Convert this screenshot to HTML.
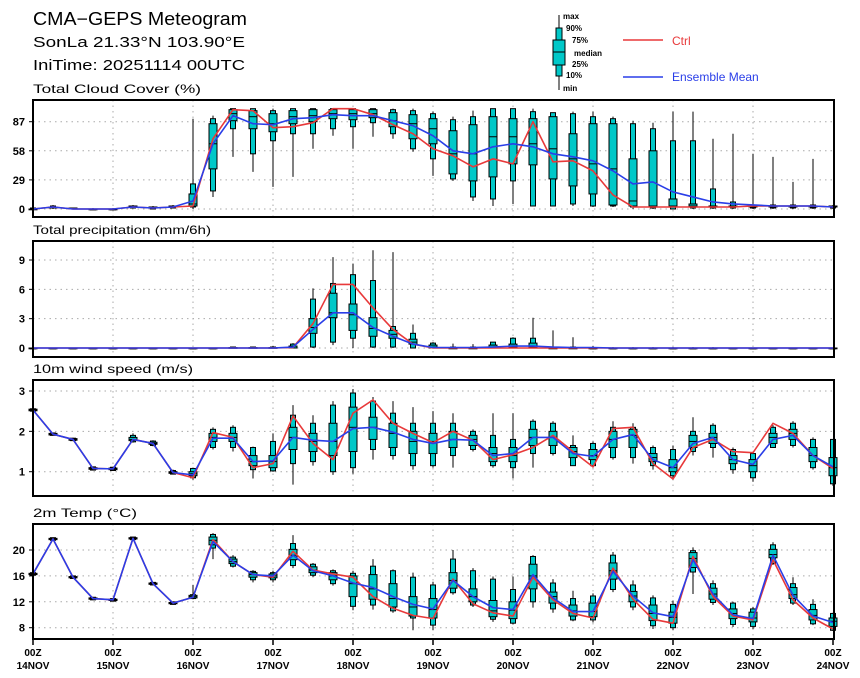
<!DOCTYPE html>
<html><head><meta charset="utf-8">
<style>
html,body{margin:0;padding:0;background:#fff;}
svg{display:block;font-family:"Liberation Sans",sans-serif;}
</style></head>
<body>
<svg id="chart" width="860" height="678" viewBox="0 0 860 678" xmlns="http://www.w3.org/2000/svg">
  <rect x="0" y="0" width="860" height="678" fill="#fff"/>
  <g fill="#000">
    <text x="33" y="25" font-size="18" textLength="214" lengthAdjust="spacingAndGlyphs">CMA−GEPS Meteogram</text>
    <text x="33" y="47" font-size="15" textLength="212" lengthAdjust="spacingAndGlyphs">SonLa 21.33°N 103.90°E</text>
    <text x="33" y="70" font-size="15" textLength="212" lengthAdjust="spacingAndGlyphs">IniTime: 20251114 00UTC</text>
  </g>
  <g>
    <g>
      <line x1="559" y1="15" x2="559" y2="90" stroke="#000" stroke-width="1"/>
      <rect x="556" y="28" width="6" height="48" fill="#00c8c8" stroke="#000" stroke-width="1"/>
      <rect x="553" y="40" width="12" height="25" fill="#00c8c8" stroke="#000" stroke-width="1"/>
      <line x1="553" y1="52" x2="565" y2="52" stroke="#000" stroke-width="1"/>
      <g font-size="8" font-weight="bold" fill="#000">
        <text x="563" y="19">max</text>
        <text x="566" y="31">90%</text>
        <text x="572" y="43">75%</text>
        <text x="574" y="56">median</text>
        <text x="572" y="67">25%</text>
        <text x="566" y="78">10%</text>
        <text x="563" y="91">min</text>
      </g>
    </g>
    <g>
      <line x1="623" y1="40" x2="663" y2="40" stroke="#e8393a" stroke-width="1.5"/>
      <text x="672" y="45" font-size="12" fill="#e8393a">Ctrl</text>
    </g>
    <g>
      <line x1="623" y1="77" x2="663" y2="77" stroke="#2a3ee8" stroke-width="1.5"/>
      <text x="672" y="81" font-size="12" fill="#2a3ee8">Ensemble Mean</text>
    </g>
  </g>
  <g id="panels"></g>
</svg>
<script>
// ---- data (41 six-hourly steps from 14NOV 00Z to 24NOV 00Z) ----
const dayLabels = ["14NOV","15NOV","16NOV","17NOV","18NOV","19NOV","20NOV","21NOV","22NOV","23NOV","24NOV"];

const cloudTicks = [0,29,58,87];
const cloudMean = [0,2,0,0,0,2,1,2,8,65,93,85,84,90,91,94,93,93,88,83,73,58,55,62,65,62,55,52,48,38,25,27,17,12,7,5,4,3,3,3,2];
const cloudCtrl = [0,2,0,0,0,2,1,2,3,70,99,98,81,82,86,100,100,94,84,75,60,53,42,50,45,87,47,48,38,14,2,2,2,2,2,2,3,3,3,3,2];
const cloudBox = [
[0,0,0,0,0,1,1],[0,1,1,2,2,3,4],[0,0,0,0,1,1,1],[0,0,0,0,0,0,1],[0,0,0,0,0,0,1],[1,1,2,2,3,3,4],[0,0,1,1,2,2,3],[1,1,2,2,3,3,4],
[0,2,3,5,15,25,90],[12,18,40,65,85,90,93],[52,80,88,95,99,100,100],[37,55,80,92,98,100,100],[22,68,77,85,95,98,100],
[32,75,85,92,98,100,100],[60,75,87,93,99,100,100],[73,80,90,95,99,100,100],[60,82,89,95,99,100,100],[72,86,91,95,99,100,100],
[70,75,82,88,96,99,100],[57,60,70,85,94,98,100],[33,50,65,80,90,95,97],[28,30,35,55,78,89,92],[8,12,28,55,84,92,98],
[3,10,32,72,92,100,100],[5,28,45,72,90,100,100],[3,3,44,65,90,97,100],[3,3,30,60,92,96,96],[3,5,23,50,75,95,97],
[2,3,15,45,85,92,97],[2,3,4,40,85,90,92],[0,2,3,8,50,85,88],[0,1,2,3,58,80,86],[0,0,2,3,10,68,97],[0,1,2,3,5,68,97],
[0,1,2,2,3,20,70],[0,1,2,2,3,7,75],[0,1,2,3,3,4,55],[0,1,2,3,3,4,52],[0,1,2,3,3,4,27],[0,1,2,3,3,4,50],[0,1,2,2,3,3,4]];

const precipTicks = [0,3,6,9];
const precipMean = [0,0,0,0,0,0,0,0,0,0,0,0,0,0.1,1.9,3.6,3.6,2.1,1.2,0.4,0.05,0.05,0.05,0.1,0.2,0.2,0.1,0.05,0.05,0,0,0,0,0,0,0,0,0,0,0,0];
const precipCtrl = [0,0,0,0,0,0,0,0,0,0,0,0,0,0.05,2.5,6.5,6.5,4.1,1.9,0.4,0,0,0,0,0,0,0,0,0,0,0,0,0,0,0,0,0,0,0,0,0];
const precipBox = [
[0,0,0,0,0,0,0],[0,0,0,0,0,0,0],[0,0,0,0,0,0,0],[0,0,0,0,0,0,0],[0,0,0,0,0,0,0],[0,0,0,0,0,0,0],[0,0,0,0,0,0,0],[0,0,0,0,0,0,0],
[0,0,0,0,0,0,0],[0,0,0,0,0,0,0],[0,0,0,0,0.05,0.1,0.15],[0,0,0,0,0.05,0.1,0.15],[0,0,0,0,0.05,0.1,0.2],
[0,0,0,0,0.2,0.4,0.5],[0,0.1,1.5,2.1,3.0,5.0,6.1],[0.3,0.6,3.1,3.6,5.6,6.6,9.3],[0,1.0,1.8,3.4,4.5,7.5,8.6],
[0,0.1,1.2,2.0,3.1,6.9,10],[0,0.1,1.0,1.4,1.8,2.2,9.8],[0,0,0.4,0.6,0.9,1.5,2.4],[0,0,0,0.1,0.3,0.5,0.6],
[0,0,0,0,0,0.1,0.45],[0,0,0,0,0,0.1,0.4],[0,0,0,0.1,0.3,0.6,0.6],[0,0,0.1,0.2,0.4,1.0,1.1],[0,0,0.1,0.2,0.5,1.0,3.1],
[0,0,0,0,0,0.1,1.8],[0,0,0,0,0,0.1,1.1],[0,0,0,0,0,0,0.2],[0,0,0,0,0,0,0.1],[0,0,0,0,0,0,0.1],[0,0,0,0,0,0,0.1],
[0,0,0,0,0,0,0.1],[0,0,0,0,0,0,0.1],[0,0,0,0,0,0,0.1],[0,0,0,0,0,0,0],[0,0,0,0,0,0,0],[0,0,0,0,0,0,0],[0,0,0,0,0,0,0],[0,0,0,0,0,0,0],[0,0,0,0,0,0,0]];

const windTicks = [1,2,3];
const windMean = [2.53,1.93,1.8,1.08,1.07,1.8,1.7,0.98,0.92,1.83,1.83,1.25,1.27,1.85,1.78,1.75,2.07,2.1,1.98,1.8,1.7,1.8,1.78,1.4,1.45,1.85,1.85,1.45,1.38,1.8,1.92,1.3,1.1,1.7,1.85,1.3,1.18,1.8,1.9,1.4,1.12];
const windCtrl = [2.53,1.93,1.8,1.08,1.07,1.8,1.7,0.98,0.85,1.97,1.85,1.1,1.2,2.38,1.7,1.3,2.45,2.78,2.2,1.95,1.72,2.0,1.78,1.3,1.42,1.6,1.9,1.5,1.12,2.07,2.1,1.2,0.82,1.6,1.8,1.5,1.47,2.2,1.95,1.4,1.08];
const windBox = [
[2.5,2.5,2.51,2.53,2.55,2.56,2.56],[1.9,1.9,1.91,1.93,1.95,1.96,1.96],[1.76,1.77,1.78,1.8,1.82,1.83,1.84],[1.03,1.04,1.06,1.08,1.1,1.12,1.13],
[1.02,1.03,1.05,1.07,1.09,1.11,1.12],[1.72,1.74,1.77,1.8,1.85,1.9,1.95],[1.63,1.65,1.68,1.7,1.73,1.76,1.78],[0.93,0.94,0.96,0.98,1.0,1.03,1.05],
[0.8,0.85,0.9,0.95,1.0,1.08,1.1],[1.55,1.6,1.75,1.85,1.95,2.05,2.1],[1.5,1.6,1.75,1.85,1.95,2.1,2.15],[0.83,1.05,1.15,1.25,1.4,1.6,1.62],
[1.0,1.02,1.1,1.25,1.4,1.75,1.95],[0.68,1.2,1.55,1.85,2.1,2.4,2.65],[1.15,1.25,1.5,1.75,1.95,2.2,2.4],[0.92,1.0,1.4,1.75,2.2,2.65,2.75],
[0.95,1.1,1.5,2.1,2.6,2.95,3.05],[1.3,1.55,1.8,2.1,2.35,2.75,2.85],[1.3,1.4,1.6,1.95,2.2,2.45,2.75],[1.05,1.15,1.45,1.75,2.0,2.2,2.6],
[1.1,1.15,1.45,1.75,1.95,2.2,2.5],[1.1,1.4,1.6,1.8,2.0,2.2,2.45],[1.5,1.55,1.65,1.8,1.9,2.0,2.05],[1.1,1.15,1.25,1.45,1.6,1.9,2.45],
[0.83,1.1,1.25,1.4,1.6,1.8,2.45],[1.1,1.45,1.65,1.85,2.05,2.25,2.3],[1.4,1.45,1.65,1.85,2.0,2.2,2.25],[1.15,1.15,1.35,1.5,1.6,1.65,1.9],
[1.1,1.15,1.3,1.4,1.55,1.7,1.75],[1.3,1.35,1.6,1.8,2.0,2.1,2.25],[1.2,1.35,1.6,1.9,2.05,2.1,2.2],[1.05,1.15,1.25,1.35,1.45,1.6,1.65],
[0.8,0.9,1.0,1.1,1.3,1.55,1.65],[1.4,1.5,1.6,1.75,1.9,2.0,2.35],[1.35,1.6,1.7,1.85,1.95,2.15,2.2],[0.95,1.05,1.2,1.3,1.4,1.55,1.6],
[0.75,0.85,1.0,1.15,1.3,1.45,1.5],[1.6,1.6,1.7,1.85,1.95,2.1,2.15],[1.6,1.65,1.8,1.95,2.05,2.2,2.25],[1.05,1.1,1.25,1.4,1.6,1.8,1.85],
[0.65,0.7,0.9,1.1,1.35,1.8,1.8]];

const tempTicks = [8,12,16,20];
const tempMean = [16.3,21.7,15.8,12.5,12.3,21.8,14.8,11.8,12.7,21.3,18.2,16.2,16.0,19.2,16.8,16.0,14.9,14.2,12.8,11.6,10.9,15.3,12.8,11.1,10.8,16.2,12.6,10.5,10.5,16.7,12.9,10.3,9.7,18.5,13.2,10.0,9.4,19.2,13.0,9.8,8.8];
const tempCtrl = [16.3,21.7,15.8,12.5,12.3,21.8,14.8,11.8,12.7,21.6,18.2,16.2,15.8,19.8,16.9,16.3,15.8,12.8,11.0,9.9,9.4,15.5,11.7,10.3,9.8,15.8,12.3,10.2,9.5,17.2,12.4,9.3,8.7,19.0,12.8,9.8,9.2,18.5,12.3,9.5,7.8];
const tempBox = [
[16.1,16.1,16.2,16.3,16.4,16.5,16.5],[21.5,21.5,21.6,21.7,21.8,21.9,21.9],[15.6,15.6,15.7,15.8,15.9,16.0,16.0],[12.3,12.3,12.4,12.5,12.6,12.7,12.7],
[12.1,12.1,12.2,12.3,12.4,12.5,12.5],[21.6,21.6,21.7,21.8,21.9,22.0,22.0],[14.6,14.6,14.7,14.8,14.9,15.0,15.0],[11.6,11.6,11.7,11.8,11.9,12.0,12.0],
[12.4,12.5,12.6,12.8,13.0,13.1,14.6],[18.6,20.3,20.8,21.5,22.0,22.4,22.6],[17.3,17.5,17.9,18.2,18.6,18.9,19.2],[15.0,15.4,15.8,16.2,16.5,16.7,16.9],
[15.0,15.4,15.7,16.0,16.3,16.5,16.8],[17.2,17.6,18.5,19.2,20.1,21.0,22.3],[15.8,16.1,16.5,16.9,17.4,17.8,18.0],[14.5,14.8,15.4,16.0,16.5,16.8,17.0],
[10.7,11.3,12.8,14.8,16.0,16.4,16.8],[10.8,11.5,12.4,14.0,16.2,17.5,18.6],[10.3,10.6,11.2,12.5,14.8,16.8,17.0],[7.6,9.5,9.8,11.2,12.8,15.8,16.5],
[7.6,8.4,9.5,10.8,12.5,14.6,15.1],[13.1,13.4,14.1,15.3,16.5,18.6,20.0],[11.2,11.5,12.0,12.8,14.0,16.8,17.2],[8.9,9.3,9.7,10.6,12.2,15.5,15.9],
[8.5,8.7,9.4,10.7,12.0,13.9,15.9],[11.1,12.0,14.0,16.0,17.8,19.0,19.2],[10.3,10.9,11.8,12.8,13.5,14.9,15.5],[9.0,9.2,9.8,10.6,11.5,12.5,13.7],
[8.8,9.2,9.7,10.5,11.8,12.9,13.3],[13.5,13.9,15.5,16.8,18.0,19.2,19.7],[10.7,11.2,12.0,12.9,13.6,14.6,15.3],[7.8,8.3,9.1,10.2,11.5,12.6,13.0],
[7.6,8.0,8.7,9.6,10.4,11.6,12.2],[13.2,16.6,17.3,18.7,19.6,19.9,20.4],[11.5,11.9,12.4,13.2,14.1,14.8,15.3],[8.1,8.5,9.4,10.2,10.9,11.8,12.0],
[7.8,8.2,8.9,9.5,10.4,10.9,11.2],[17.7,17.9,18.8,19.3,20.1,20.8,21.2],[11.5,11.8,12.5,13.1,14.2,14.8,15.8],[8.4,8.6,9.2,9.9,10.8,11.6,12.4],
[7.5,7.6,8.2,9.0,9.5,10.2,10.3]];

// ---- drawing ----
const NS = "http://www.w3.org/2000/svg";
const X0 = 33, X1 = 833, FR = 834, NSTEP = 40;
const xOf = i => X0 + (X1 - X0) * i / NSTEP;
const root = document.getElementById("panels");
function mk(tag, attrs, parent) {
  const e = document.createElementNS(NS, tag);
  for (const k in attrs) e.setAttribute(k, attrs[k]);
  parent.appendChild(e);
  return e;
}
const panels = [
  {name:"cloud", title:"Total Cloud Cover (%)", tw:168, top:100, bot:217, v0:0, y0:209, v1:87, y1:121.7, ticks:cloudTicks, mean:cloudMean, ctrl:cloudCtrl, box:cloudBox},
  {name:"precip", title:"Total precipitation (mm/6h)", tw:178, top:241, bot:357, v0:0, y0:348, v1:9, y1:260, ticks:precipTicks, mean:precipMean, ctrl:precipCtrl, box:precipBox},
  {name:"wind", title:"10m wind speed (m/s)", tw:160, top:380, bot:496, v0:1, y0:471.7, v1:3, y1:391, ticks:windTicks, mean:windMean, ctrl:windCtrl, box:windBox},
  {name:"temp", title:"2m Temp (°C)", tw:104, top:524, bot:639, v0:8, y0:627.7, v1:20, y1:550, ticks:tempTicks, mean:tempMean, ctrl:tempCtrl, box:tempBox}
];
panels.forEach(p => {
  const yOf = v => p.y0 + (v - p.v0) * (p.y1 - p.y0) / (p.v1 - p.v0);
  const g = mk("g", {}, root);
  
  
  const t = mk("text", {x:X0, y:p.top-7, "font-size":12, textLength:p.tw, lengthAdjust:"spacingAndGlyphs"}, g);
  
  
  t.textContent = p.title;
  // grid
  const grid = mk("g", {stroke:"#aaa", "stroke-width":1, "stroke-dasharray":"1.5,4"}, g);
  
  
  for (let d = 1; d < dayLabels.length - 1; d++) {
    const x = xOf(d * 4);
    mk("line", {x1:x, x2:x, y1:p.top, y2:p.bot}, grid);
  }
  p.ticks.forEach(v => {
    const y = yOf(v);
    mk("line", {x1:X0, x2:FR, y1:y, y2:y}, grid);
  });
  // y ticks
  const ax = mk("g", {}, g);
  
  
  p.ticks.forEach(v => {
    const y = yOf(v);
    mk("line", {x1:X0-4, x2:X0, y1:y, y2:y, stroke:"#000"}, ax);
    const lt = mk("text", {x:X0-8, y:y+4, "font-size":11, "font-weight":"bold", "text-anchor":"end"}, ax);
    
    
    lt.textContent = v;
  });
  // boxes
  const bg = mk("g", {}, g);
  
  
  p.box.forEach((b, i) => {
    const x = xOf(i);
    const bx = mk("g", {}, bg);
    
    
    mk("line", {x1:x, x2:x, y1:yOf(b[0]), y2:yOf(b[6]), stroke:"#000", "stroke-width":1}, bx);
    const n1 = yOf(b[5]), n2 = yOf(b[1]);
    mk("rect", {x:x-2.5, y:n1, width:5, height:Math.max(n2-n1,0.8), fill:"#00c8c8", stroke:"#000", "stroke-width":1}, bx);
    const w1 = yOf(b[4]), w2 = yOf(b[2]);
    mk("rect", {x:x-4, y:w1, width:8, height:Math.max(w2-w1,0.8), fill:"#00c8c8", stroke:"#000", "stroke-width":1}, bx);
    const ym = yOf(b[3]);
    mk("line", {x1:x-4, x2:x+4, y1:ym, y2:ym, stroke:"#000", "stroke-width":1}, bx);
  });
  const line = (arr, col, nm) => {
    const pl = mk("polyline", {points: arr.map((v, i) => xOf(i) + "," + yOf(v)).join(" "), fill:"none", stroke:col, "stroke-width":1.6, "stroke-linejoin":"round"}, g);
    
    
  };
  line(p.ctrl, "#e8393a", p.name + '-ctrl-line');
  line(p.mean, "#2a3ee8", p.name + '-ensemble-mean-line');
  // frame
  const fr = mk("rect", {x:X0, y:p.top, width:FR-X0, height:p.bot-p.top, fill:"none", stroke:"#000", "stroke-width":2}, g);
  
  
});
// x axis
const xa = mk("g", {}, root);


dayLabels.forEach((lab, d) => {
  const x = xOf(d * 4);
  mk("line", {x1:x, x2:x, y1:639, y2:645, stroke:"#000", "stroke-width":1.5}, xa);
  const t1 = mk("text", {x:x, y:656, "font-size":10, "font-weight":"bold", "text-anchor":"middle"}, xa);
  
  
  t1.textContent = "00Z";
  const t2 = mk("text", {x:x, y:669, "font-size":10, "font-weight":"bold", "text-anchor":"middle"}, xa);
  
  
  t2.textContent = lab;
});
</script>
</body></html>
